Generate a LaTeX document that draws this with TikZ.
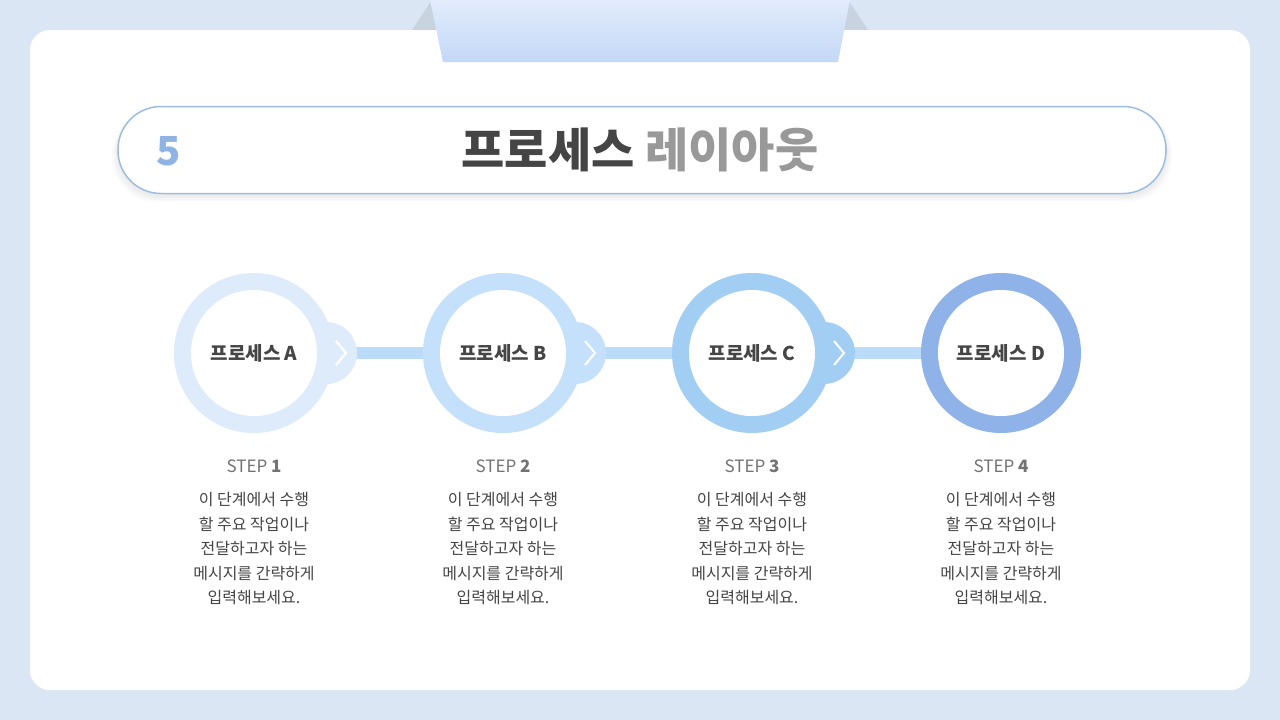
\documentclass[tikz,border=0pt]{standalone}
\usepackage{fontspec}
\setmainfont{Noto Sans CJK KR}
\definecolor{bgc}{HTML}{DBE6F5}
\definecolor{pillb}{HTML}{9DBDE0}
\definecolor{fivec}{HTML}{8FB3E2}
\definecolor{darkt}{HTML}{454545}
\definecolor{grayt}{HTML}{999999}
\definecolor{ra}{HTML}{DDEBFB}
\definecolor{rb}{HTML}{C4E0FA}
\definecolor{rc}{HTML}{A2CEF4}
\definecolor{rd}{HTML}{8FB2E9}
\definecolor{barc}{HTML}{BADCF8}
\definecolor{tabt}{HTML}{E2ECFD}
\definecolor{tabb}{HTML}{C3D8F5}
\definecolor{tri}{HTML}{C8D3E0}
\tikzset{
  ring/.style={circle,minimum size=160pt,inner sep=0pt},
  inner/.style={circle,fill=white,minimum size=126pt,inner sep=0pt,font=\fontsize{19}{22}\selectfont\bfseries,text=darkt},
  bump/.style={circle,minimum size=62pt,inner sep=0pt},
  steplab/.style={font=\fontsize{17}{20}\selectfont,text=gray!90!black},
  body/.style={font=\fontsize{16}{24.5}\selectfont,text=darkt,align=center,anchor=north}
}
\begin{document}
\begin{tikzpicture}[x=1pt,y=-1pt]
\fill[bgc] (0,0) rectangle (1280,720);
\useasboundingbox (0,0) rectangle (1280,720);
\fill[tri] (412,30)--(432,0)--(440,30)--cycle;
\fill[tri] (868,30)--(848,0)--(840,30)--cycle;
\node[fill=white,rounded corners=20pt,minimum width=1220pt,minimum height=660pt,inner sep=0pt] (card) at (640,360) {};
\shade[top color=tabt,bottom color=tabb] (430,0)--(850,0)--(838,62)--(443,62)--cycle;
\foreach \k in {1,...,6}{
  \fill[black,opacity=0.012,rounded corners=44pt] (118-\k,110-\k+\k) rectangle (1166+\k,196+\k);
}
\node[draw=pillb,line width=1.5pt,fill=white,rounded corners=43pt,minimum width=1048pt,minimum height=87pt,inner sep=0pt] (pill) at (642,150) {};
\node[text=fivec,font=\fontsize{40}{44}\selectfont\bfseries] (five) at (169,151) {5};
\node[font=\fontsize{47}{50}\selectfont\bfseries] (title) at (640,150) {\textcolor{darkt}{프로세스} \textcolor{grayt}{레이아웃}};
\foreach \i/\c in {0/ra,1/rb,2/rc}{
  \pgfmathsetmacro{\cx}{254+249*\i}
  \fill[barc] (\cx+60,347) rectangle (\cx+200,359);
  \node[bump,fill=\c] (bump\i) at (\cx+72,353) {};
  \draw[white,line width=2pt] (\cx+82,341)--(\cx+92,353)--(\cx+82,365);
}
\foreach \i/\c/\l/\n in {0/ra/A/1,1/rb/B/2,2/rc/C/3,3/rd/D/4}{
  \pgfmathsetmacro{\cx}{254+249*\i}
  \node[ring,fill=\c] (ring\i) at (\cx,353) {};
  \node[inner] (in\i) at (\cx,353) {프로세스 \l};
  \node[steplab] (st\i) at (\cx,466) {STEP \textbf{\n}};
  \node[body] (b\i) at (\cx,489) {이 단계에서 수행\\할 주요 작업이나\\전달하고자 하는\\메시지를 간략하게\\입력해보세요.};
}
\draw[white,line width=2pt] (336,341)--(346,353)--(336,365);
\end{tikzpicture}
\end{document}
